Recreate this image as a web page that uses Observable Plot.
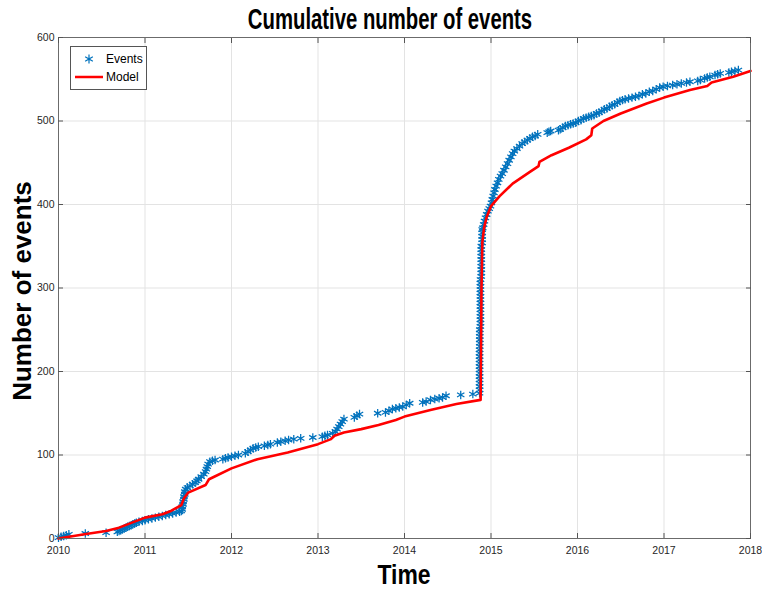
<!DOCTYPE html>
<html>
<head>
<meta charset="utf-8">
<script src="https://cdn.jsdelivr.net/npm/d3@7"></script>
<script src="https://cdn.jsdelivr.net/npm/@observablehq/plot@0.6"></script>
<style>
  body { margin: 0; background: #fff; font-family: "Liberation Sans", Arial, Helvetica, sans-serif; }
  #wrap { position: relative; width: 762px; height: 590px; overflow: hidden; }
  .title { position: absolute; left: 390px; top: 3px; font-size: 29px; font-weight: bold; white-space: nowrap; transform: translateX(-50%) scaleX(0.7); color: #000; }
  .xlabel { position: absolute; left: 404px; top: 560px; font-size: 27px; font-weight: bold; transform: translateX(-50%) scaleX(0.85); color: #000; }
  .ylabel { position: absolute; left: 22px; top: 291px; font-size: 26px; font-weight: bold; white-space: nowrap; transform: translate(-50%, -50%) rotate(-90deg); color: #000; }
  .legend { position: absolute; left: 70px; top: 46px; width: 75px; height: 42px; border: 1px solid #555; background: #fff; font-size: 12px; }
  .legend .row { position: absolute; left: 0; height: 16px; line-height: 16px; }
  .legend .lab { position: absolute; left: 35px; color: #000; }
</style>
</head>
<body>
<div id="wrap">
  <div id="chart"></div>
  <div class="title">Cumulative number of events</div>
  <div class="xlabel">Time</div>
  <div class="ylabel">Number of events</div>
  <div class="legend">
    <div class="row" style="top:4px;width:75px">
      <svg width="34" height="16" style="position:absolute;left:0;top:0"><path id="legSym" transform="translate(18,8)" fill="none" stroke="#0072BD" stroke-width="1.2"></path></svg>
      <span class="lab">Events</span>
    </div>
    <div class="row" style="top:22px;width:75px">
      <svg width="34" height="16" style="position:absolute;left:0;top:0"><line x1="4" x2="32" y1="8" y2="8" stroke="#ff0000" stroke-width="2.5"></line></svg>
      <span class="lab">Model</span>
    </div>
  </div>
</div>
<script>
// Tick values
const xTicks = [2010, 2011, 2012, 2013, 2014, 2015, 2016, 2017, 2018];
const yTicks = [0, 100, 200, 300, 400, 500, 600];

const eventsEarly = [
  [2010.00,1],[2010.03,2],[2010.06,3],[2010.09,4],[2010.12,5],[2010.31,6],[2010.55,7],[2010.68,8],
  [2010.70,9],[2010.72,10],[2010.74,11],[2010.76,12],[2010.78,13],[2010.80,14],[2010.82,15],[2010.84,16],
  [2010.86,17],[2010.88,18],[2010.90,19],[2010.93,20],[2010.97,21],[2011.00,22],[2011.04,23],[2011.08,24],
  [2011.12,25],[2011.16,26],[2011.20,27],[2011.24,28],[2011.28,29],[2011.32,30],[2011.36,31],[2011.40,32],
  [2011.42,33],[2011.43,35],[2011.43,38],[2011.44,41],[2011.44,44],[2011.45,47],[2011.45,50],[2011.46,53],
  [2011.46,56],[2011.47,59],[2011.49,61],[2011.52,63],[2011.55,65],[2011.58,67],[2011.60,69],[2011.62,71],
  [2011.65,74],[2011.68,77],[2011.70,80],[2011.71,83],[2011.72,86],[2011.73,89],[2011.75,92],[2011.78,93],
  [2011.81,94],[2011.90,95],[2011.93,96],[2011.96,97],[2012.00,98],[2012.04,99],[2012.08,100],[2012.16,102],
  [2012.19,104],[2012.22,106],[2012.25,108],[2012.28,109],[2012.31,110],[2012.38,111],[2012.42,112],[2012.45,113],
  [2012.53,115],[2012.57,116],[2012.62,117],[2012.66,118],[2012.72,119],[2012.80,120],[2012.94,121],[2013.05,122],
  [2013.08,123],[2013.11,124],[2013.17,126],[2013.20,128],[2013.22,131],[2013.24,134],[2013.26,137],[2013.28,140],
  [2013.30,143],[2013.42,145],[2013.45,147],[2013.48,149],[2013.69,150],[2013.78,151],[2013.82,153],[2013.86,155],
  [2013.90,156],[2013.94,157],[2013.98,158],[2014.02,160],[2014.06,162],[2014.21,163],[2014.25,164],[2014.30,166],
  [2014.35,167],[2014.40,168],[2014.44,169],[2014.48,171],[2014.65,172],[2014.79,173]
];
const eventsJump = [
  [2014.868,174],[2014.868,178],[2014.868,182],[2014.868,186],[2014.868,190],[2014.868,194],[2014.868,198],
  [2014.868,202],[2014.868,206],[2014.868,210],[2014.868,214],[2014.868,218],[2014.868,222],[2014.868,226],
  [2014.870,230],[2014.870,234],[2014.870,238],[2014.870,242],[2014.870,246],[2014.870,250],[2014.878,254],
  [2014.878,258],[2014.878,262],[2014.878,266],[2014.878,270],[2014.878,274],[2014.878,278],[2014.878,282],
  [2014.878,286],[2014.878,290],[2014.878,294],[2014.878,298],[2014.878,302],[2014.878,306],[2014.878,310],
  [2014.888,314],[2014.888,318],[2014.888,322],[2014.888,326],[2014.888,330],[2014.888,334],[2014.888,338],
  [2014.888,342],[2014.888,346],[2014.888,350],[2014.898,354],[2014.898,358],[2014.898,362],[2014.898,366],
  [2014.898,370]
];
const eventsLate = [
  [2014.905,372],[2014.915,376],[2014.925,380],[2014.936,384],[2014.950,388],[2014.965,392],[2014.980,395],
  [2014.994,398],[2015.005,402],[2015.015,406],[2015.025,410],[2015.035,414],[2015.045,418],[2015.060,422],
  [2015.075,426],[2015.090,430],[2015.110,434],[2015.130,437],[2015.150,441],[2015.170,445],[2015.191,449],
  [2015.210,453],[2015.230,457],[2015.250,461],[2015.270,464],[2015.300,467],[2015.330,470],[2015.360,473],
  [2015.390,475],[2015.420,477],[2015.450,479],[2015.480,481],[2015.510,482],[2015.540,484],[2015.650,486],
  [2015.670,487],[2015.690,488],[2015.780,489],[2015.800,490],[2015.830,492],[2015.860,494],[2015.890,495],
  [2015.920,496],[2015.950,497],[2015.980,498],[2016.010,500],[2016.040,501],[2016.070,503],[2016.100,504],
  [2016.130,505],[2016.160,506],[2016.190,507],[2016.220,509],[2016.250,510],[2016.280,512],[2016.310,514],
  [2016.340,515],[2016.370,517],[2016.400,519],[2016.430,520],[2016.460,522],[2016.490,524],[2016.520,525],
  [2016.550,526],[2016.590,527],[2016.630,528],[2016.670,529],[2016.710,530],[2016.750,532],[2016.790,533],
  [2016.830,535],[2016.870,536],[2016.910,538],[2016.950,540],[2016.990,541],[2017.040,542],[2017.100,543],
  [2017.150,544],[2017.200,545],[2017.260,546],[2017.300,547],[2017.390,548],[2017.420,549],[2017.470,551],
  [2017.500,552],[2017.530,553],[2017.590,555],[2017.620,556],[2017.650,557],[2017.750,558],[2017.780,559],
  [2017.820,560],[2017.860,561]
];

// Model curve vertices: [decimal year, cumulative count]
const model = [
  [2010.00,0],[2010.30,5],[2010.55,9],[2010.70,13],[2010.85,19],[2011.00,25],[2011.20,29],[2011.30,33],
  [2011.42,40],[2011.45,48],[2011.50,55],[2011.70,64],[2011.74,71],[2011.80,74],[2012.00,84],[2012.30,95],
  [2012.65,103],[2013.00,113],[2013.15,119],[2013.19,123],[2013.30,127],[2013.50,131],[2013.70,136],
  [2013.90,142],[2014.00,146],[2014.30,154],[2014.60,161],[2014.88,166],[2014.885,230],[2014.89,300],
  [2014.90,355],[2014.92,372],[2014.95,385],[2015.00,398],[2015.10,410],[2015.25,425],[2015.45,439],
  [2015.55,446],[2015.56,451],[2015.70,459],[2015.90,468],[2016.10,478],[2016.16,483],[2016.17,491],
  [2016.30,500],[2016.50,509],[2016.80,521],[2017.00,528],[2017.30,537],[2017.50,542],[2017.55,546],
  [2017.80,553],[2018.00,560]
];

const events = [...eventsEarly, ...eventsJump, ...eventsLate].map(([t, n]) => ({t, n}));
const modelData = model.map(([t, n]) => ({t, n}));

const chart = Plot.plot({
  width: 762,
  height: 590,
  marginLeft: 58,
  marginRight: 12,
  marginTop: 37,
  marginBottom: 52,
  style: { background: "#fff", color: "#262626", fontFamily: "Liberation Sans, Arial, sans-serif", fontSize: "10.5px" },
  x: { domain: [2010, 2018], label: null },
  y: { domain: [0, 600], label: null },
  marks: [
    Plot.gridX(xTicks, { stroke: "#e3e3e3", strokeOpacity: 1 }),
    Plot.gridY(yTicks, { stroke: "#e3e3e3", strokeOpacity: 1 }),
    Plot.dot(events, { x: "t", y: "n", symbol: "asterisk", r: 4, stroke: "#0072BD", strokeWidth: 1.25 }),
    Plot.line(modelData, { x: "t", y: "n", stroke: "#ff0000", strokeWidth: 2.6 }),
    Plot.frame({ stroke: "#6b6b6b", strokeWidth: 1 }),
    Plot.axisX(xTicks, { anchor: "bottom", tickSize: -5, tickPadding: 13, tickFormat: d => String(d), stroke: "#555" }),
    Plot.axisX(xTicks, { anchor: "top", tickSize: -5, tickFormat: () => "", stroke: "#555" }),
    Plot.axisY(yTicks, { anchor: "left", tickSize: -5, tickPadding: 9, tickFormat: d => String(d), stroke: "#555" }),
    Plot.axisY(yTicks, { anchor: "right", tickSize: -5, tickFormat: () => "", stroke: "#555" })
  ]
});
document.getElementById("chart").appendChild(chart);

// legend symbol drawn with the same d3 asterisk symbol
document.getElementById("legSym").setAttribute("d", d3.symbol(d3.symbolAsterisk, Math.PI * 4 * 4 * 1.1)());
</script>
</body>
</html>
